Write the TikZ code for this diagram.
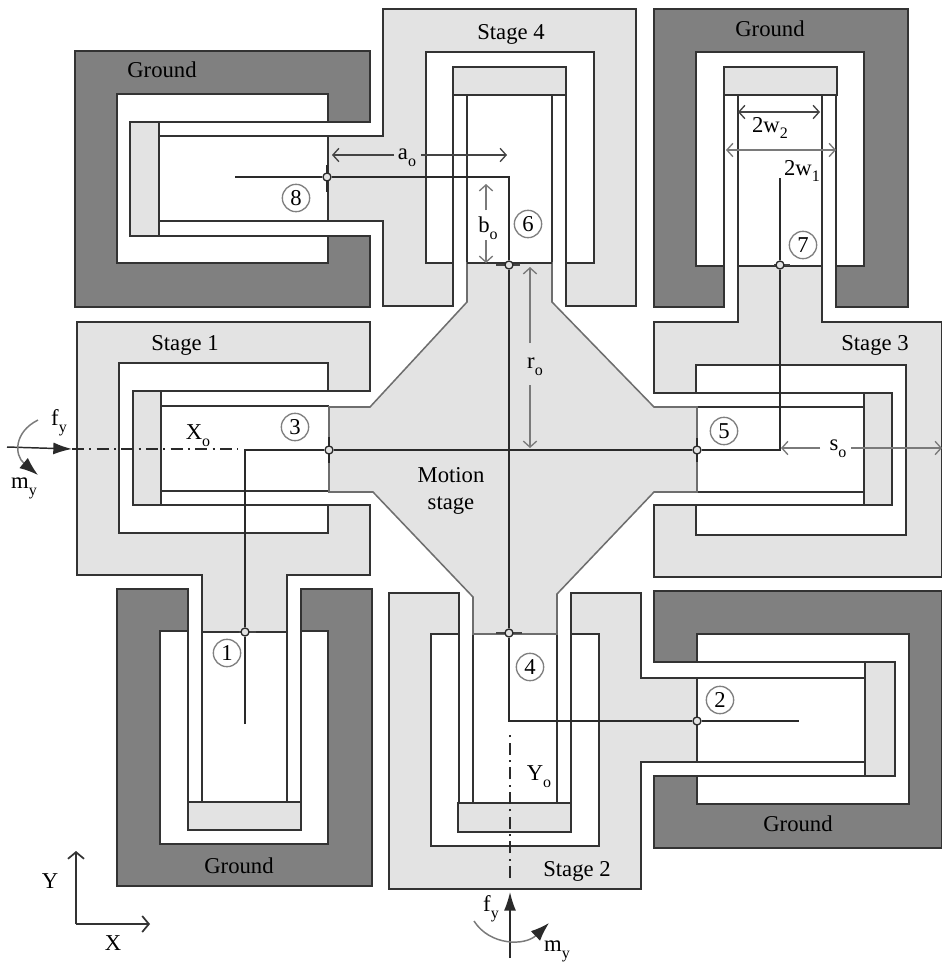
\documentclass[tikz,border=0pt]{standalone}
\usepackage{fontspec}
\setmainfont{Liberation Serif}
\usetikzlibrary{arrows.meta}
\definecolor{lnc}{HTML}{333333}
\definecolor{cnc}{HTML}{2A2A2A}
\definecolor{msc}{HTML}{6E6E6E}
\definecolor{gnd}{HTML}{808080}
\definecolor{stg}{HTML}{E3E3E3}
\definecolor{dmc}{HTML}{7A7A7A}
\definecolor{dkd}{HTML}{444444}
\newcommand{\sbs}[1]{\raisebox{-0.3em}{\fontsize{12pt}{13pt}\selectfont #1}}
\tikzset{
  ln/.style={draw=lnc,line width=1.15pt,line join=miter},
  ground/.style={ln,fill=gnd},
  stage/.style={ln,fill=stg},
  motion/.style={draw=msc,line width=1.15pt,fill=stg},
  conn/.style={draw=cnc,line width=1.4pt,line join=miter},
  tickv/.style={draw=cnc,line width=1.5pt},
  tickh/.style={draw=dkd,line width=1pt},
  joint/.style={circle,draw=cnc,fill=stg,line width=1pt,inner sep=0pt,minimum size=6pt},
  numc/.style={circle,draw=gray,fill=white,line width=1pt,inner sep=0pt,minimum size=20.5pt,font=\fontsize{17pt}{18pt}\selectfont},
  lab/.style={inner sep=0pt,font=\fontsize{17pt}{20.5pt}\selectfont,align=center},
  dimr/.style={draw=dmc,line width=1pt},
  dimtip/.style={dimr,-{Straight Barb[length=4.5pt,width=10pt]}},
  dimtipd/.style={draw=dkd,line width=1pt,-{Straight Barb[length=4.5pt,width=10pt]}},
  dimtwo/.style={dimr,{Straight Barb[length=4.5pt,width=10pt]}-{Straight Barb[length=4.5pt,width=10pt]}},
  dimtwod/.style={draw=dkd,line width=1pt,{Straight Barb[length=4.5pt,width=10pt]}-{Straight Barb[length=4.5pt,width=10pt]}},
  axisarrow/.style={draw=lnc,line width=1.3pt,-{Straight Barb[length=5pt,width=12pt]}},
  force/.style={draw=cnc,line width=1.1pt,-{Latex[length=14pt,width=9pt]}},
  moment/.style={draw=dmc,line width=1.1pt,-{Latex[length=14pt,width=10pt,color=cnc]}},
  axisline/.style={draw=cnc,line width=1.1pt,dash pattern=on 9pt off 4pt on 1.5pt off 4pt}
}
\begin{document}
\begin{tikzpicture}[x=0.75pt,y=-0.75pt]
\path[use as bounding box,fill=white] (0,0) rectangle (942,965);

% Grounds
\path[ground] (75,51)--(370,51)--(370,122)--(328,122)--(328,94)--(117,94)--(117,263)--(328,263)--(328,236)--(370,236)--(370,307)--(75,307)--cycle;
\path[ground] (654,9)--(908,9)--(908,307)--(836,307)--(836,266)--(864,266)--(864,52)--(696,52)--(696,266)--(724,266)--(724,307)--(654,307)--cycle;
\path[ground] (117,589)--(188,589)--(188,631)--(160,631)--(160,844)--(328,844)--(328,631)--(301,631)--(301,589)--(372,589)--(372,886)--(117,886)--cycle;
\path[ground] (654,591)--(942,591)--(942,848)--(654,848)--(654,776)--(697,776)--(697,804)--(909,804)--(909,634)--(697,634)--(697,662)--(654,662)--cycle;

% Stages
\path[stage] (383,9)--(636,9)--(636,306)--(566,306)--(566,263)--(594,263)--(594,52)--(426,52)--(426,263)--(453,263)--(453,306)--(383,306)--(383,221)--(328,221)--(328,136)--(383,136)--cycle;
\path[stage] (77,322)--(370,322)--(370,391)--(328,391)--(328,363)--(119,363)--(119,533)--(328,533)--(328,505)--(370,505)--(370,575)--(287,575)--(287,632)--(202,632)--(202,575)--(77,575)--cycle;
\path[stage] (654,322)--(738,322)--(738,266)--(822,266)--(822,322)--(942,322)--(942,577)--(654,577)--(654,505)--(696,505)--(696,535)--(906,535)--(906,365)--(696,365)--(696,393)--(654,393)--cycle;
\path[stage] (389,593)--(459,593)--(459,634)--(431,634)--(431,846)--(599,846)--(599,634)--(571,634)--(571,593)--(641,593)--(641,678)--(697,678)--(697,762)--(641,762)--(641,889)--(389,889)--cycle;

% Intermediate bars
\path[stage] (130,122) rectangle (159,236);
\path[stage] (453,67) rectangle (566,95);
\path[stage] (724,67) rectangle (837,95);
\path[stage] (133,391) rectangle (161,505);
\path[stage] (864,393) rectangle (892,505);
\path[stage] (188,802) rectangle (301,830);
\path[stage] (458,803) rectangle (571,832);
\path[stage] (865,662) rectangle (895,776);

% Flexure beams
\path[ln] (159,122)--(328,122) (159,136)--(328,136) (159,221)--(328,221) (159,236)--(328,236);
\path[ln] (453,95)--(453,263) (467,95)--(467,263) (552,95)--(552,263) (566,95)--(566,263);
\path[ln] (724,95)--(724,266) (738,95)--(738,266) (822,95)--(822,266) (836,95)--(836,266);
\path[ln] (161,391)--(328,391) (161,406)--(329,406) (161,491)--(329,491) (161,505)--(328,505);
\path[ln] (696,393)--(864,393) (697,407)--(864,407) (697,492)--(864,492) (696,505)--(864,505);
\path[ln] (188,632)--(188,802) (202,632)--(202,802) (287,632)--(287,802) (301,632)--(301,802);
\path[ln] (459,634)--(459,803) (473,634)--(473,803) (557,634)--(557,803) (571,634)--(571,803);
\path[ln] (697,662)--(865,662) (697,678)--(865,678) (697,762)--(865,762) (697,776)--(865,776);

% Motion stage
\path[motion] (467,263)--(552,263)--(552,302)--(654,407)--(697,407)--(697,492)--(654,492)--(557,594)--(557,634)--(473,634)--(473,597)--(373,492)--(329,492)--(329,407)--(370,407)--(467,302)--cycle;
\path[ln] (467,263)--(552,263);

% Joints (nodes) and corner coordinates
\coordinate (e1) at (245,724);
\coordinate (c1) at (245,450);
\coordinate (e7) at (780,178);
\coordinate (c7) at (780,450);
\coordinate (e8) at (235,177);
\coordinate (c8) at (509,177);
\coordinate (c2) at (509,721);
\coordinate (e2) at (799,721);

% Crossbars at joints
\path[tickv] (329,437)--(329,463);
\path[tickv] (697,438)--(697,462);
\path[tickv] (327,165)--(327,192);
\path[tickh] (239,632)--(256,632);
\path[tickh] (496,265)--(520,265);
\path[tickh] (496,633)--(522,633);
\path[tickh] (774,265)--(790,265);

\node[joint] (j1) at (245,632) {};
\node[joint] (j2) at (697,721) {};
\node[joint] (j3) at (329,450) {};
\node[joint] (j4) at (509,633) {};
\node[joint] (j5) at (697,450) {};
\node[joint] (j6) at (509,265) {};
\node[joint] (j7) at (780,265) {};
\node[joint] (j8) at (327,177) {};

% Connector paths
\path[conn] (e1)--(j1)--(c1)--(j3)--(j5)--(c7)--(j7)--(e7);
\path[conn] (e8)--(j8)--(c8)--(j6)--(j4)--(c2)--(j2)--(e2);

% Number circles
\node[numc] (n1) at (227,653) {1};
\node[numc] (n2) at (720,700) {2};
\node[numc] (n3) at (295,427) {3};
\node[numc] (n4) at (530,667) {4};
\node[numc] (n5) at (724,431) {5};
\node[numc] (n6) at (528,224) {6};
\node[numc] (n7) at (803,245) {7};
\node[numc] (n8) at (296,198) {8};

% Labels
\node[lab] (g1) at (162,70) {Ground};
\node[lab] (g2) at (770,29) {Ground};
\node[lab] (g3) at (239,866) {Ground};
\node[lab] (g4) at (798,824) {Ground};
\node[lab] (s1) at (185,345) {Stage 1};
\node[lab] (s2) at (577,871) {Stage 2};
\node[lab] (s3) at (875,345) {Stage 3};
\node[lab] (s4) at (511,34) {Stage 4};
\node[lab] (ms) at (451,491) {Motion\\stage};
\node[lab] (xo) at (198,436) {X\sbs{o}};
\node[lab] (yo) at (539,777) {Y\sbs{o}};
\node[lab] (ao) at (407,158) {a\sbs{o}};
\node[lab] (bo) at (488,228) {b\sbs{o}};
\node[lab] (ro) at (535,367) {r\sbs{o}};
\node[lab] (so) at (838,449) {s\sbs{o}};
\node[lab] (w2) at (770,128) {2w\sbs{2}};
\node[lab] (w1) at (802,171) {2w\sbs{1}};

% Dimension arrows
\coordinate (aL) at (332,155); \coordinate (aR) at (507,155);
\coordinate (bT) at (486,184); \coordinate (bB) at (486,263);
\coordinate (rT) at (530,267); \coordinate (rB) at (530,448);
\coordinate (sL) at (781,448); \coordinate (sR) at (942,448);
\coordinate (w2L) at (738,112); \coordinate (w2R) at (820,112);
\coordinate (w1L) at (726,150); \coordinate (w1R) at (836,150);
\path[dimtipd] (394,155)--(aL);
\path[dimtipd] (421,155)--(aR);
\path[dimtip] (486,210)--(bT);
\path[dimtip] (486,240)--(bB);
\path[dimtip] (530,343)--(rT);
\path[dimtip] (530,385)--(rB);
\path[dimtip] (820,448)--(sL);
\path[dimtip] (851,448)--(sR);
\path[dimtwod] (w2L)--(w2R);
\path[dimtwo] (w1L)--(w1R);

% Symmetry axes
\coordinate (axL) at (72,449); \coordinate (axLe) at (238,449);
\coordinate (axB) at (510,878); \coordinate (axBe) at (510,735);
\path[axisline] (axL)--(axLe);
\path[axisline] (axB)--(axBe);

% Loads
\coordinate (fL) at (7,447);
\coordinate (fB) at (510,958); \coordinate (fBe) at (510,892);
\path[force] (fL)--(axL);
\path[force] (fB)--(fBe);
\path[moment] (38,420) .. controls (14,432) and (14,455) .. (38,475);
\path[moment] (474,921) .. controls (490,946) and (525,946) .. (549,923);
\node[lab] (fy1) at (59,423) {f\sbs{y}};
\node[lab] (my1) at (24,488) {m\sbs{y}};
\node[lab] (fy2) at (491,909) {f\sbs{y}};
\node[lab] (my2) at (557,951) {m\sbs{y}};

% Coordinate axes
\coordinate (o) at (76,924);
\coordinate (oy) at (76,851);
\coordinate (ox) at (150,924);
\path[axisarrow] (o)--(oy);
\path[axisarrow] (o)--(ox);
\node[lab] (yl) at (50,881) {Y};
\node[lab] (xl) at (113,943) {X};
\end{tikzpicture}
\end{document}
